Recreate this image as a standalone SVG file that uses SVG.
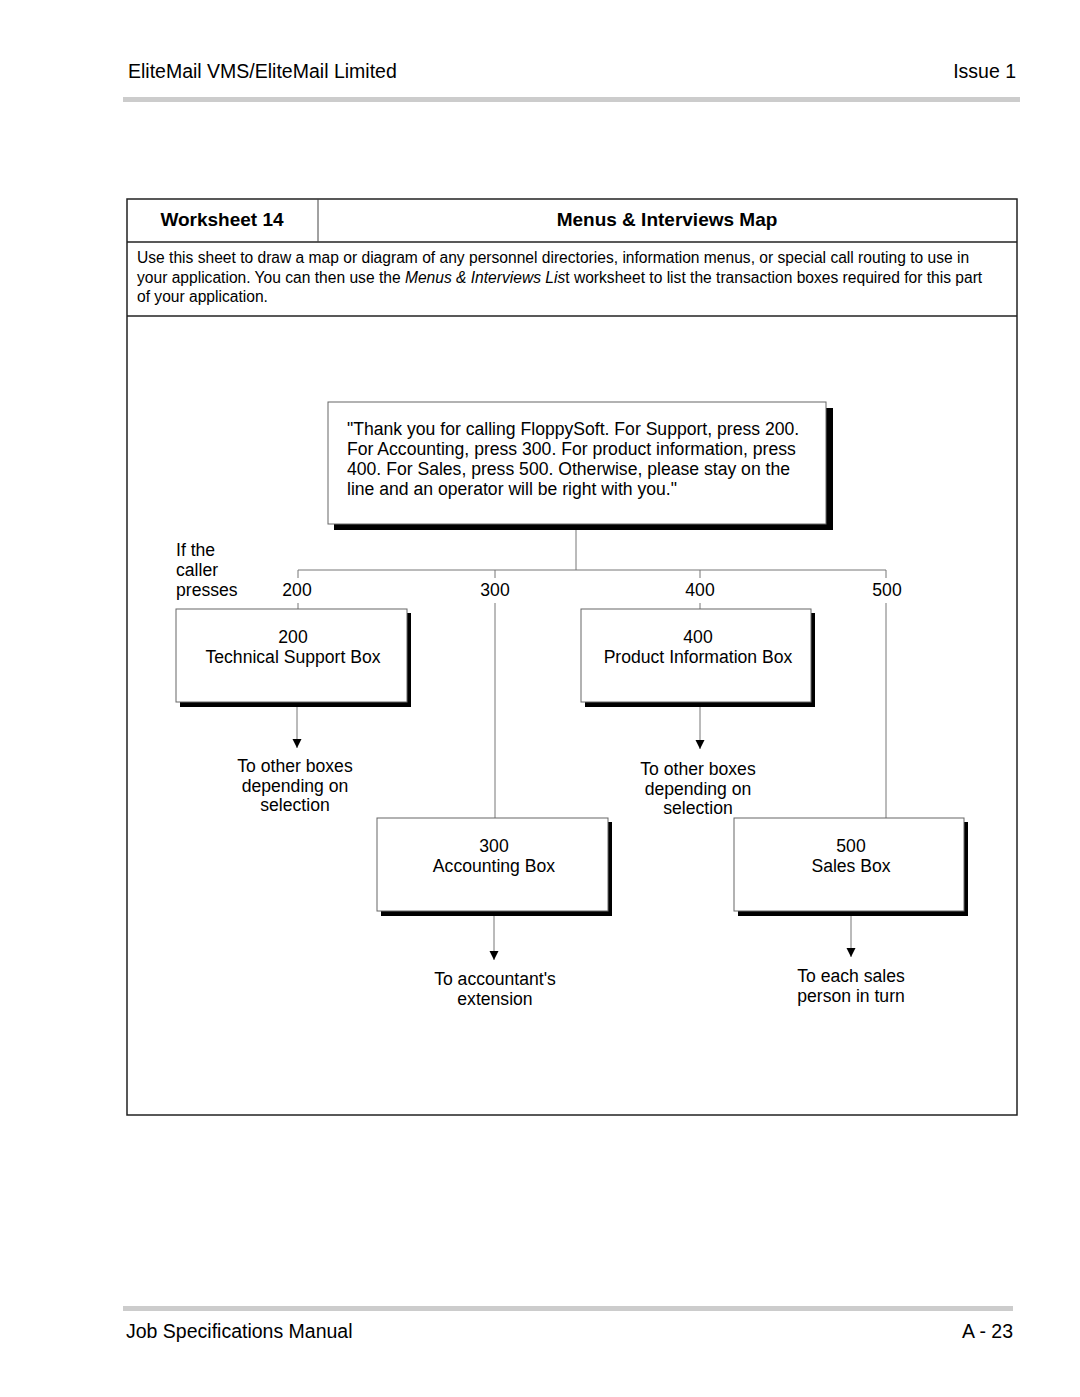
<svg xmlns="http://www.w3.org/2000/svg" width="1080" height="1397" viewBox="0 0 1080 1397">
<defs>
<marker id="arr" viewBox="0 0 10 10" refX="10" refY="5" markerWidth="9" markerHeight="10" markerUnits="userSpaceOnUse" orient="auto">
<path d="M0,0 L10,5 L0,10 Z" fill="#000"/>
</marker>
</defs>
<style>
text{font-family:"Liberation Sans",Arial,Helvetica,sans-serif;fill:#000}
.hdr{font-size:19.5px}
.ttl{font-size:19px;font-weight:bold}
.desc{font-size:15.6px}
.body{font-size:17.6px}
.c{text-anchor:middle}
.box{fill:#fff;stroke:#666;stroke-width:1}
.shadow{fill:#000}
.ln{stroke:#777;stroke-width:1;fill:none}
.tbl{fill:none;stroke:#222;stroke-width:1.5}
.bar{fill:#cccccc}
</style>
<rect width="1080" height="1397" fill="#fff"/>

<g id="header">
<text class="hdr" x="128" y="78">EliteMail VMS/EliteMail Limited</text>
<text class="hdr" x="1016" y="78" text-anchor="end">Issue 1</text>
<rect class="bar" x="123" y="97" width="897" height="5"/>
</g>

<g id="worksheet-table">
<rect class="tbl" x="127" y="199" width="890" height="916"/>
<line class="tbl" x1="127" y1="242" x2="1017" y2="242"/>
<line class="tbl" x1="127" y1="316" x2="1017" y2="316"/>
<line x1="318" y1="199" x2="318" y2="242" stroke="#444" stroke-width="1"/>
<text class="ttl c" x="222" y="226">Worksheet 14</text>
<text class="ttl c" x="667" y="226">Menus &amp; Interviews Map</text>
<text class="desc" x="137" y="263">Use this sheet to draw a map or diagram of any personnel directories, information menus, or special call routing to use in</text>
<text class="desc" x="137" y="283">your application.  You can then use the <tspan font-style="italic">Menus &amp; Interviews Lis</tspan>t worksheet to list the transaction boxes required for this part</text>
<text class="desc" x="137" y="302">of your application.</text>
</g>

<g id="connectors">
<line class="ln" x1="576" y1="530" x2="576" y2="570"/>
<line class="ln" x1="298" y1="570" x2="886" y2="570"/>
<line class="ln" x1="298" y1="570" x2="298" y2="578"/>
<line class="ln" x1="495" y1="570" x2="495" y2="578"/>
<line class="ln" x1="700" y1="570" x2="700" y2="578"/>
<line class="ln" x1="886" y1="570" x2="886" y2="578"/>
<line class="ln" x1="298" y1="603" x2="298" y2="609"/>
<line class="ln" x1="495" y1="603" x2="495" y2="818"/>
<line class="ln" x1="700" y1="603" x2="700" y2="609"/>
<line class="ln" x1="886" y1="603" x2="886" y2="818"/>
<line class="ln" x1="297" y1="707" x2="297" y2="748" marker-end="url(#arr)"/>
<line class="ln" x1="700" y1="707" x2="700" y2="749" marker-end="url(#arr)"/>
<line class="ln" x1="494" y1="916" x2="494" y2="960" marker-end="url(#arr)"/>
<line class="ln" x1="851" y1="916" x2="851" y2="957" marker-end="url(#arr)"/>
</g>

<g id="labels">
<text class="body" x="176" y="556">If the</text>
<text class="body" x="176" y="576">caller</text>
<text class="body" x="176" y="596">presses</text>
<text class="body c" x="297" y="596">200</text>
<text class="body c" x="495" y="596">300</text>
<text class="body c" x="700" y="596">400</text>
<text class="body c" x="887" y="596">500</text>
</g>

<g id="greeting">
<rect class="shadow" x="334" y="408" width="499" height="122"/>
<rect class="box" x="328" y="402" width="498" height="122"/>
<text class="body" x="347" y="435">"Thank you for calling FloppySoft. For Support, press 200.</text>
<text class="body" x="347" y="455">For Accounting, press 300. For product information, press</text>
<text class="body" x="347" y="475">400. For Sales, press 500. Otherwise, please stay on the</text>
<text class="body" x="347" y="495">line and an operator will be right with you."</text>
</g>

<g id="box200">
<rect class="shadow" x="180" y="613" width="231" height="94"/>
<rect class="box" x="176" y="609" width="231" height="93"/>
<text class="body c" x="293" y="643">200</text>
<text class="body c" x="293" y="663">Technical Support Box</text>
</g>

<g id="box400">
<rect class="shadow" x="585" y="613" width="230" height="94"/>
<rect class="box" x="581" y="609" width="230" height="93"/>
<text class="body c" x="698" y="643">400</text>
<text class="body c" x="698" y="663">Product Information Box</text>
</g>

<g id="box300">
<rect class="shadow" x="381" y="822" width="231" height="94"/>
<rect class="box" x="377" y="818" width="231" height="93"/>
<text class="body c" x="494" y="852">300</text>
<text class="body c" x="494" y="872">Accounting Box</text>
</g>

<g id="box500">
<rect class="shadow" x="738" y="822" width="230" height="94"/>
<rect class="box" x="734" y="818" width="230" height="93"/>
<text class="body c" x="851" y="852">500</text>
<text class="body c" x="851" y="872">Sales Box</text>
</g>

<g id="outcome200">
<text class="body c" x="295" y="772">To other boxes</text>
<text class="body c" x="295" y="792">depending on</text>
<text class="body c" x="295" y="811">selection</text>
</g>
<g id="outcome400">
<text class="body c" x="698" y="775">To other boxes</text>
<text class="body c" x="698" y="795">depending on</text>
<text class="body c" x="698" y="814">selection</text>
</g>
<g id="outcome300">
<text class="body c" x="495" y="985">To accountant's</text>
<text class="body c" x="495" y="1005">extension</text>
</g>
<g id="outcome500">
<text class="body c" x="851" y="982">To each sales</text>
<text class="body c" x="851" y="1002">person in turn</text>
</g>

<g id="footer">
<rect class="bar" x="123" y="1306" width="890" height="5"/>
<text class="hdr" x="126" y="1338">Job Specifications Manual</text>
<text class="hdr" x="1013" y="1338" text-anchor="end">A - 23</text>
</g>
</svg>
